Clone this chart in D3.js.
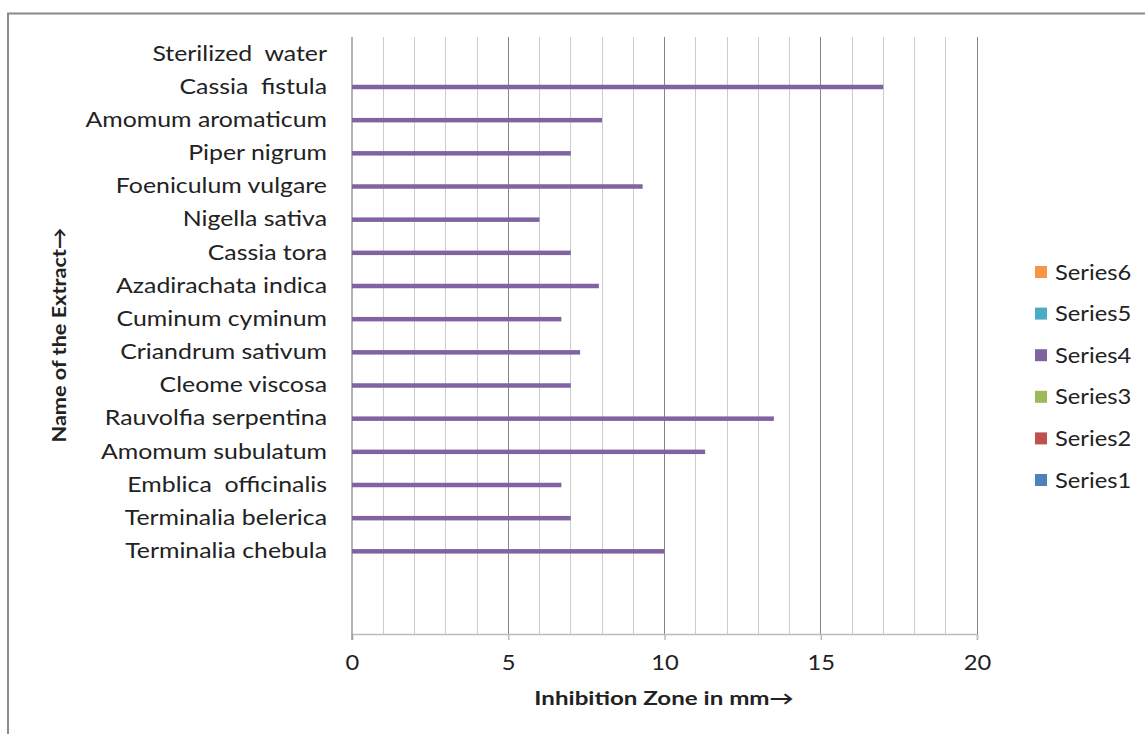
<!DOCTYPE html>
<html>
<head>
<meta charset="utf-8">
<script src="https://cdn.jsdelivr.net/npm/d3@7"></script>
<style>
  html, body { margin: 0; padding: 0; background: #fff; }
  svg { display: block; }
  text { font-family: Lato, "Open Sans", sans-serif; fill: #222; white-space: pre; }
</style>
</head>
<body>
<svg id="chart" width="1145" height="734"></svg>
<script>
// ---- data (top to bottom as shown) ----
const categories = [
  "Sterilized  water", "Cassia  fistula", "Amomum aromaticum", "Piper nigrum",
  "Foeniculum vulgare", "Nigella sativa", "Cassia tora", "Azadirachata indica",
  "Cuminum cyminum", "Criandrum sativum", "Cleome viscosa", "Rauvolfia serpentina",
  "Amomum subulatum", "Emblica  officinalis", "Terminalia belerica", "Terminalia chebula",
  "", ""
];
const series4Values = [0, 17, 8, 7, 9.3, 6, 7, 7.9, 6.7, 7.3, 7, 13.5, 11.3, 6.7, 7, 10, null, null];
const xTicks = [0, 5, 10, 15, 20];
const legendSeries = ["Series6", "Series5", "Series4", "Series3", "Series2", "Series1"];
const legendColors = ["#F79646", "#4BACC6", "#8064A2", "#9BBB59", "#C0504D", "#4F81BD"];
const xTitle = "Inhibition Zone in mm\u2192";
const yTitle = "Name of the Extract\u2192";

const svg = d3.select("#chart");
const W = 1145, H = 734;
const SX = 1.13; // horizontal text stretch to mimic reference typeface

// outer frame (top & left visible)
svg.append("path")
  .attr("d", `M8,${H} V13.5 H${W}`)
  .attr("fill", "none").attr("stroke", "#8a8a8a").attr("stroke-width", 2);

const x = d3.scaleLinear().domain([0, 20]).range([352, 977]);
const y = d3.scaleBand().domain(d3.range(categories.length)).range([37, 634]).paddingInner(0).paddingOuter(0);

// gridlines
const grid = d3.range(1, 21);
svg.append("g").selectAll("line").data(grid).join("line")
  .attr("x1", d => x(d)).attr("x2", d => x(d))
  .attr("y1", 37).attr("y2", 634)
  .attr("stroke", d => d % 5 === 0 ? "#868686" : "#cccccc")
  .attr("stroke-width", 1)
  .attr("shape-rendering", "crispEdges");

// x axis
const xAxis = svg.append("g").attr("transform", "translate(0,634)")
  .call(d3.axisBottom(x).tickValues(xTicks).tickSize(6).tickPadding(15).tickFormat(d3.format("d")));
xAxis.select(".domain").attr("stroke", "#bdbdbd").attr("stroke-width", 1.5);
xAxis.selectAll(".tick line").attr("stroke", "#bdbdbd").attr("stroke-width", 1.5);
xAxis.selectAll(".tick text").attr("font-size", 21).attr("fill", "#222")
  .style("font-family", "Lato, sans-serif")
  .attr("transform", `scale(${SX},1)`);

// y axis
const yAxis = svg.append("g").attr("transform", "translate(352,0)")
  .call(d3.axisLeft(y).tickSize(0).tickPadding(25).tickFormat(i => categories[i]));
yAxis.select(".domain").attr("stroke", "#9a9a9a").attr("stroke-width", 1.5)
  .attr("d", "M0,37V640");
yAxis.selectAll(".tick text").attr("font-size", 22).attr("fill", "#222")
  .style("font-family", "Lato, sans-serif")
  .attr("x", 0)
  .attr("transform", `translate(-25,0) scale(${SX},1)`);

// bars (Series4)
const barData = series4Values.map((v, i) => ({ i, v })).filter(d => d.v !== null);
svg.append("g").selectAll("rect").data(barData).join("rect")
  .attr("x", x(0))
  .attr("y", d => y(d.i) + y.bandwidth() / 2 - 2)
  .attr("width", d => x(d.v) - x(0))
  .attr("height", 4.5)
  .attr("fill", legendColors[2]);

// axis titles
svg.append("text")
  .attr("transform", "translate(664,705) scale(1.27,1)")
  .attr("text-anchor", "middle").attr("font-weight", "bold").attr("font-size", 19)
  .attr("fill", "#111")
  .text(xTitle);
svg.append("text")
  .attr("transform", "translate(66,335) rotate(-90) scale(1.14,1)")
  .attr("text-anchor", "middle").attr("font-weight", "bold").attr("font-size", 19)
  .attr("fill", "#111")
  .text(yTitle);

// legend
const lg = svg.append("g");
const ly = d3.scalePoint().domain(legendSeries).range([272, 480]);
const items = lg.selectAll("g").data(legendSeries).join("g")
  .attr("transform", d => `translate(1035,${ly(d)})`);
items.append("rect").attr("x", 0).attr("y", -6).attr("width", 12).attr("height", 12)
  .attr("fill", (d, i) => legendColors[i]);
items.append("text").attr("transform", `translate(20,0) scale(${SX},1)`)
  .attr("dy", "0.36em").attr("font-size", 21).text(d => d);
</script>
</body>
</html>
